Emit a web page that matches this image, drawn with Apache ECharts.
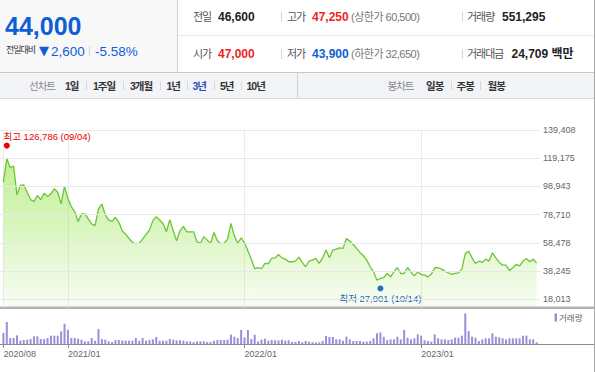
<!DOCTYPE html>
<html lang="ko"><head><meta charset="utf-8">
<script src="https://cdn.jsdelivr.net/npm/echarts@6.0.0/dist/echarts.min.js"></script>
<style>
html,body{margin:0;padding:0;background:#fff;}
body{width:596px;height:372px;position:relative;overflow:hidden;font-family:"Liberation Sans","Noto Sans CJK KR",sans-serif;}
#chart{position:absolute;left:0;top:0;width:596px;height:372px;z-index:1;}
.b{position:absolute;z-index:2;}
.t{position:absolute;z-index:3;white-space:nowrap;}
.k{font-size:11px;letter-spacing:-1px;color:#555;line-height:14px;}
.n{font-size:12px;font-weight:bold;color:#222;line-height:14px;}
.g{font-size:11px;color:#777;line-height:14px;letter-spacing:-0.5px;}
.red{color:#f01f1f;}
.blue{color:#0f5ed6;}
.sep{position:absolute;z-index:3;width:1px;background:#d6d6d6;}
.tab{font-size:10.5px;font-weight:bold;letter-spacing:-1px;color:#333;line-height:14px;top:78.5px;}
.tabg{font-size:10.5px;letter-spacing:-1px;color:#888;line-height:14px;top:78.5px;}
</style></head><body>
<div class="b" style="left:0;top:0;width:177px;height:72px;background:#f8f8f8"></div>
<div class="b" style="left:177px;top:0;width:1px;height:73px;background:#d3d3d3"></div>
<div class="b" style="left:178px;top:35px;width:416px;height:1px;background:#e8e8e8"></div>
<div class="b" style="left:0;top:72px;width:594px;height:25px;background:#f3f4f7;border-top:1px solid #c8c8c8;border-bottom:1px solid #dadada"></div>
<div class="b" style="left:297px;top:73px;width:1px;height:25px;background:#d0d0d0"></div>
<div class="b" style="left:594px;top:0;width:1px;height:372px;background:#acacac"></div>

<div class="t blue" style="left:5px;top:11px;font-size:25px;font-weight:bold;line-height:30px;">44,000</div>
<div class="t" style="left:6px;top:44px;font-size:9px;letter-spacing:-1px;color:#333;line-height:13px;">전일대비</div>
<div class="t blue" style="left:39px;top:43px;font-size:13px;line-height:15px;font-family:'DejaVu Sans';">▼</div>
<div class="t blue" style="left:51px;top:43.5px;font-size:13.5px;line-height:15px;">2,600</div>
<div class="sep" style="left:89px;top:46px;height:10px;"></div>
<div class="t blue" style="left:95px;top:43.5px;font-size:13.5px;line-height:15px;">-5.58%</div>

<div class="t k" style="left:193px;top:10px;">전일</div>
<div class="t n" style="left:218px;top:10px;">46,600</div>
<div class="sep" style="left:281px;top:12px;height:10px;"></div>
<div class="t k" style="left:287px;top:10px;">고가</div>
<div class="t n red" style="left:312px;top:10px;">47,250</div>
<div class="t g" style="left:351px;top:10px;">(상한가 60,500)</div>
<div class="sep" style="left:462px;top:12px;height:10px;"></div>
<div class="t k" style="left:467px;top:10px;">거래량</div>
<div class="t n" style="left:502px;top:10px;">551,295</div>

<div class="t k" style="left:193px;top:46.5px;">시가</div>
<div class="t n red" style="left:218px;top:46.5px;">47,000</div>
<div class="sep" style="left:281px;top:48.5px;height:10px;"></div>
<div class="t k" style="left:287px;top:46.5px;">저가</div>
<div class="t n blue" style="left:312px;top:46.5px;">43,900</div>
<div class="t g" style="left:351px;top:46.5px;">(하한가 32,650)</div>
<div class="sep" style="left:462px;top:48.5px;height:10px;"></div>
<div class="t k" style="left:467px;top:46.5px;">거래대금</div>
<div class="t n" style="left:511.5px;top:46.5px;">24,709 백만</div>

<div class="t tabg" style="left:29px;">선차트</div>
<div class="t tab" style="left:65px;">1일</div>
<div class="sep" style="left:86px;top:81px;height:9px;"></div>
<div class="t tab" style="left:93px;">1주일</div>
<div class="sep" style="left:123px;top:81px;height:9px;"></div>
<div class="t tab" style="left:130px;">3개월</div>
<div class="sep" style="left:160px;top:81px;height:9px;"></div>
<div class="t tab" style="left:166.5px;">1년</div>
<div class="sep" style="left:186.5px;top:81px;height:9px;"></div>
<div class="t tab" style="left:192.5px;color:#2a52be;">3년</div>
<div class="sep" style="left:214px;top:81px;height:9px;"></div>
<div class="t tab" style="left:220px;">5년</div>
<div class="sep" style="left:240.5px;top:81px;height:9px;"></div>
<div class="t tab" style="left:246.5px;">10년</div>
<div class="t tabg" style="left:387.5px;">봉차트</div>
<div class="t tab" style="left:426px;">일봉</div>
<div class="sep" style="left:451px;top:81px;height:9px;"></div>
<div class="t tab" style="left:456.5px;">주봉</div>
<div class="sep" style="left:480px;top:81px;height:9px;"></div>
<div class="t tab" style="left:487.5px;">월봉</div>

<div id="chart"></div>
<script>
// ---- data (weekly, first week starting Monday 2020-08-24) ----
const startDate = '2020-08-24';
const closes = [
102000,119000,112400,113600,92900,99700,100100,94800,89500,88100,
92400,89500,94100,91700,93600,97300,94800,86400,99200,90000,
84500,80900,73700,79200,79200,75600,72000,70800,82800,86200,
78500,74900,73900,76800,73200,66900,64700,61600,58700,58000,
58200,61100,64500,67600,74400,77300,74900,72400,66400,75100,
67100,59900,67100,70300,66400,66400,66400,59200,58200,62800,
60400,58000,65900,59900,58000,58200,61100,72400,63500,58200,
62100,58700,52700,46700,39900,40700,39900,43800,43500,47260,
47700,50100,47700,46800,44900,44900,45400,48200,44400,41300,
45400,46100,47300,43700,47700,53300,47700,53300,54000,54900,
54500,61600,59700,57300,54500,51600,49200,46100,41300,37700,
31700,32900,33600,36500,34100,37700,40800,36500,36500,40800,
37700,34800,37700,35800,35300,34100,36000,40600,40600,39600,
38200,37000,35800,36500,37000,39600,50900,52500,47700,43700,
45400,44400,46800,45400,51300,47700,44400,42500,42500,38600,
40600,43000,42000,45400,47300,44900,46800,44000
];
const volumes = [ // thousand shares
825,1650,450,450,650,250,300,325,375,575,
575,375,375,450,625,625,625,950,1525,1075,
450,450,400,325,200,200,450,250,1125,375,
325,200,150,300,300,275,250,250,250,450,
250,450,250,300,350,525,250,250,250,375,
325,275,275,250,200,200,150,200,200,200,
150,150,250,300,300,300,325,700,550,450,
1050,500,1050,375,700,200,325,400,250,300,
275,275,325,250,275,150,150,225,125,225,
175,125,125,125,225,600,525,525,350,350,
250,550,350,225,225,225,175,175,225,425,
800,875,550,300,350,350,550,350,1050,475,
350,425,725,625,275,225,175,725,425,350,
350,300,350,475,475,625,2300,975,550,475,
225,350,425,425,800,550,500,425,350,425,
425,425,425,625,625,350,350,125
];
const priceTicks = [139408,119175,98943,78710,58478,38245,18013];
const highIndex = 1, highValue = 126786, highLabel = '최고 126,786 (09/04)';
const lowIndex = 111, lowValue = 27901, lowLabel = '최저 27,901 (10/14)';
const volumeName = '거래량';

// ---- build ----
function weekDates(start, n) {
  const p = start.split('-').map(Number);
  const t0 = Date.UTC(p[0], p[1] - 1, p[2]);
  const out = [];
  for (let i = 0; i < n; i++) out.push(new Date(t0 + i * 7 * 86400000).toISOString().slice(0, 10));
  return out;
}
const dates = weekDates(startDate, closes.length);
const cats = ['pad-start'].concat(dates, ['pad-end']);
const N = dates.length;
const padArr = a => ['-'].concat(a, ['-']);
function isMark(i) {
  if (i < 1 || i > N) return false;
  if (i === 1) return true;
  return cats[i].slice(5, 7) === '01' && cats[i - 1].slice(5, 7) === '12';
}
const fmt = v => String(v).replace(/\B(?=(\d{3})+(?!\d))/g, ',');
const FONT = "'Liberation Sans','Noto Sans CJK KR',sans-serif";

const chart = echarts.init(document.getElementById('chart'), null, {renderer: 'svg'});
chart.setOption({
  animation: false,
  grid: [
    {left: 0, top: 130, width: 540, height: 177.5},
    {left: 0, top: 313, width: 540, height: 31}
  ],
  xAxis: [
    {type: 'category', gridIndex: 0, data: cats, boundaryGap: false,
     axisLine: {show: false}, axisTick: {show: false}, axisLabel: {show: false},
     splitLine: {show: true, interval: (i) => isMark(i), lineStyle: {color: '#ebebeb', width: 1}}},
    {type: 'category', gridIndex: 1, data: cats, boundaryGap: false,
     axisLine: {show: true, lineStyle: {color: '#8c8c8c', width: 1}},
     axisTick: {show: true, interval: (i) => isMark(i), length: 4, lineStyle: {color: '#8c8c8c'}},
     axisLabel: {show: true, interval: (i) => isMark(i), formatter: v => v.slice(0, 4) + '/' + v.slice(5, 7),
       align: 'left', margin: 5, color: '#666', fontSize: 9, fontFamily: FONT},
     splitLine: {show: false}}
  ],
  yAxis: [
    {type: 'value', gridIndex: 0, min: 12100, max: 139408, show: false, splitLine: {show: false}},
    {type: 'value', gridIndex: 1, min: 0, max: 2330, show: false, splitLine: {show: false}}
  ],
  series: [
    {type: 'line', name: 'price', xAxisIndex: 0, yAxisIndex: 0, data: padArr(closes),
     symbol: 'none', connectNulls: false,
     lineStyle: {color: '#6cc634', width: 1.3},
     areaStyle: {origin: 'start', opacity: 1, color: new echarts.graphic.LinearGradient(0, 0, 0, 1, [
       {offset: 0, color: 'rgba(150,228,75,0.6)'},
       {offset: 1, color: 'rgba(150,228,75,0.06)'}
     ])},
     markLine: {silent: true, symbol: ['none', 'none'], animation: false,
       lineStyle: {color: '#e8e8e8', width: 1, type: 'solid'},
       label: {show: true, position: 'end', distance: 3, color: '#666', fontSize: 9, fontFamily: FONT,
               formatter: p => fmt(p.value)},
       emphasis: {disabled: true},
       data: priceTicks.map(v => ({yAxis: v}))}
    },
    {type: 'scatter', name: 'high', xAxisIndex: 0, yAxisIndex: 0,
     data: [[cats[highIndex + 1], highValue]], symbol: 'circle', symbolSize: 6, symbolOffset: [0, -2],
     itemStyle: {color: '#ee0000', opacity: 1},
     label: {show: true, formatter: highLabel, position: 'top', align: 'left', offset: [-3.3, 0], distance: 1,
             color: '#e80000', fontSize: 9.5, fontFamily: FONT}},
    {type: 'scatter', name: 'low', xAxisIndex: 0, yAxisIndex: 0,
     data: [[cats[lowIndex + 1], lowValue]], symbol: 'circle', symbolSize: 6, symbolOffset: [0, 3],
     itemStyle: {color: '#1560d8', opacity: 1},
     label: {show: true, formatter: lowLabel, position: 'bottom', distance: 2,
             color: '#1a58c8', fontSize: 9.5, fontFamily: FONT}},
    {type: 'bar', name: volumeName, xAxisIndex: 1, yAxisIndex: 1, data: padArr(volumes),
     barWidth: 2, itemStyle: {color: '#9f8dd8'}}
  ],
  graphic: [
    {type: 'rect', shape: {x: 0, y: 306.5, width: 594, height: 2.5}, style: {fill: '#b3b3b3'}, silent: true},
    {type: 'line', shape: {x1: 540, y1: 344.5, x2: 594, y2: 344.5}, style: {stroke: '#8c8c8c', lineWidth: 1}, silent: true},
    {type: 'rect', shape: {x: 554.5, y: 313.5, width: 2.5, height: 8}, style: {fill: '#9d8bd6'}, silent: true},
    {type: 'text', x: 559, y: 317.5, style: {text: volumeName, fill: '#666', fontSize: 8.5, fontFamily: FONT, verticalAlign: 'middle'}, silent: true}
  ]
});
</script>
</body></html>
